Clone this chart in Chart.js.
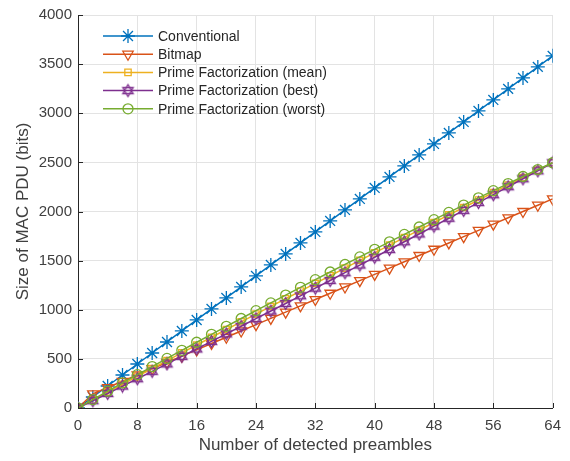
<!DOCTYPE html>
<html>
<head>
<meta charset="utf-8">
<script src="https://cdn.jsdelivr.net/npm/chart.js@4"></script>
<style>
  html, body { margin: 0; padding: 0; background: #fff; }
  #wrap { width: 570px; height: 461px; }
</style>
</head>
<body>
<div id="wrap"><canvas id="macChart" width="570" height="461"></canvas></div>
<script>
// Number of detected preambles (every 2nd point has a marker)
const preambles = [0, 2, 4, 6, 8, 10, 12, 14, 16, 18, 20, 22, 24, 26, 28, 30, 32,
    34, 36, 38, 40, 42, 44, 46, 48, 50, 52, 54, 56, 58, 60, 62, 64];

// Size of MAC PDU (bits)
const conventional = [0, 112, 224, 336, 448, 560, 672, 784, 896, 1008, 1120, 1232, 1344, 1456, 1568, 1680, 1792,
    1904, 2016, 2128, 2240, 2352, 2464, 2576, 2688, 2800, 2912, 3024, 3136, 3248, 3360, 3472, 3584];
const bitmap = [0, 144, 208, 272, 336, 400, 464, 528, 592, 656, 720, 784, 848, 912, 976, 1040, 1104,
    1168, 1232, 1296, 1360, 1424, 1488, 1552, 1616, 1680, 1744, 1808, 1872, 1936, 2000, 2064, 2128];
const primeMean = [0, 82, 162, 242, 322, 402, 482, 561, 641, 720, 799, 877, 956, 1034, 1112, 1190, 1268,
    1346, 1424, 1502, 1579, 1657, 1734, 1811, 1888, 1965, 2041, 2117, 2193, 2269, 2345, 2421, 2496];
const primeBest = [0, 74, 148, 223, 298, 373, 449, 525, 601, 678, 755, 832, 909, 987, 1064, 1142, 1220,
    1298, 1377, 1455, 1534, 1613, 1692, 1771, 1851, 1931, 2011, 2091, 2171, 2252, 2333, 2414, 2496];
const primeWorst = [0, 86, 171, 255, 339, 422, 505, 587, 669, 750, 831, 911, 991, 1070, 1149, 1228, 1306,
    1384, 1461, 1538, 1615, 1691, 1767, 1842, 1917, 1991, 2065, 2139, 2212, 2284, 2356, 2427, 2496];

const xTicks = [0, 8, 16, 24, 32, 40, 48, 56, 64];
const yTicks = [0, 500, 1000, 1500, 2000, 2500, 3000, 3500, 4000];

const textColor = '#404040';
const fontFamily = '"Liberation Sans", Arial, Helvetica, sans-serif';

// hexagram marker (no built-in one in Chart.js)
function makeHexagram(color) {
    const c = document.createElement('canvas');
    c.width = 15; c.height = 15;
    const g = c.getContext('2d');
    g.strokeStyle = color;
    g.lineWidth = 1.3;
    const cx = 7.5, cy = 7.5, r = 6;
    [[-90, 30, 150], [90, 210, 330]].forEach(angles => {
        g.beginPath();
        angles.forEach((a, i) => {
            const rad = a * Math.PI / 180;
            const px = cx + r * Math.cos(rad), py = cy + r * Math.sin(rad);
            if (i === 0) g.moveTo(px, py); else g.lineTo(px, py);
        });
        g.closePath();
        g.stroke();
    });
    return c;
}

function toPoints(values) {
    return values.map((v, i) => ({ x: preambles[i], y: v }));
}

const series = [
    { label: 'Conventional', values: conventional, color: '#0072BD', style: 'star', radius: 7, rotation: 0, order: 5 },
    { label: 'Bitmap', values: bitmap, color: '#D95319', style: 'triangle', radius: 6, rotation: 180, order: 4 },
    { label: 'Prime Factorization (mean)', values: primeMean, color: '#EDB120', style: 'rect', radius: 4.5, rotation: 0, order: 3 },
    { label: 'Prime Factorization (best)', values: primeBest, color: '#7E2F8E', style: makeHexagram('#7E2F8E'), radius: 7, rotation: 0, order: 2 },
    { label: 'Prime Factorization (worst)', values: primeWorst, color: '#77AC30', style: 'circle', radius: 5, rotation: 0, order: 1 }
];

const datasets = series.map(s => ({
    label: s.label,
    data: toPoints(s.values),
    borderColor: s.color,
    borderWidth: 1.5,
    pointStyle: s.style,
    pointRadius: s.radius,
    pointRotation: s.rotation,
    pointBorderColor: s.color,
    pointBorderWidth: 1.3,
    pointBackgroundColor: 'rgba(0,0,0,0)',
    tension: 0,
    order: s.order
}));

// inward tick marks like the original axes
const inwardTicks = {
    id: 'inwardTicks',
    afterDatasetsDraw(chart) {
        const { ctx, chartArea, scales } = chart;
        ctx.save();
        ctx.strokeStyle = '#262626';
        ctx.lineWidth = 1;
        xTicks.forEach(t => {
            const px = Math.round(scales.x.getPixelForValue(t)) + 0.5;
            ctx.beginPath();
            ctx.moveTo(px, chartArea.bottom);
            ctx.lineTo(px, chartArea.bottom - 5);
            ctx.stroke();
        });
        yTicks.forEach(t => {
            const py = Math.round(scales.y.getPixelForValue(t)) + 0.5;
            ctx.beginPath();
            ctx.moveTo(chartArea.left, py);
            ctx.lineTo(chartArea.left + 5, py);
            ctx.stroke();
        });
        ctx.restore();
    }
};

// legend drawn inside the plot area, top-left, no box
const insideLegend = {
    id: 'insideLegend',
    afterDraw(chart) {
        const { ctx } = chart;
        const x0 = 103, x1 = 153, textX = 158, yStart = 36, rowH = 18.2;
        ctx.save();
        ctx.font = '14px ' + fontFamily;
        ctx.textBaseline = 'middle';
        series.forEach((s, i) => {
            const y = yStart + i * rowH;
            ctx.strokeStyle = s.color;
            ctx.lineWidth = 1.5;
            ctx.beginPath();
            ctx.moveTo(x0, y);
            ctx.lineTo(x1, y);
            ctx.stroke();
            ctx.lineWidth = 1.3;
            ctx.fillStyle = 'rgba(0,0,0,0)';
            Chart.helpers.drawPoint(ctx, {
                pointStyle: s.style,
                rotation: s.rotation,
                radius: s.radius,
                borderWidth: 1.3
            }, (x0 + x1) / 2, y);
            ctx.fillStyle = '#262626';
            ctx.fillText(s.label, textX, y + 1);
        });
        ctx.restore();
    }
};

const ctx = document.getElementById('macChart').getContext('2d');
const macChart = new Chart(ctx, {
    type: 'line',
    data: { datasets: datasets },
    options: {
        responsive: false,
        maintainAspectRatio: false,
        animation: false,
        layout: { padding: { top: 8, right: 14, left: 0, bottom: 0 } },
        scales: {
            x: {
                type: 'linear',
                min: 0,
                max: 64,
                afterBuildTicks: scale => { scale.ticks = xTicks.map(v => ({ value: v })); },
                afterFit: scale => { scale.height = 53; },
                grid: { color: '#e3e3e3', lineWidth: 1, drawTicks: false },
                border: { color: '#262626', width: 1 },
                ticks: {
                    color: textColor, font: { size: 15, family: fontFamily }, padding: 9, maxRotation: 0,
                    callback: v => String(v)
                },
                title: {
                    display: true,
                    text: 'Number of detected preambles',
                    color: textColor,
                    font: { size: 17, family: fontFamily },
                    padding: { top: 0, bottom: 5 }
                }
            },
            y: {
                type: 'linear',
                min: 0,
                max: 4000,
                afterBuildTicks: scale => { scale.ticks = yTicks.map(v => ({ value: v })); },
                afterFit: scale => { scale.width = 78; },
                grid: { color: '#e3e3e3', lineWidth: 1, drawTicks: false },
                border: { color: '#262626', width: 1 },
                ticks: {
                    color: textColor, font: { size: 15, family: fontFamily }, padding: 6,
                    callback: v => String(v)
                },
                title: {
                    display: true,
                    text: 'Size of MAC PDU (bits)',
                    color: textColor,
                    font: { size: 17, family: fontFamily },
                    padding: { top: 13, bottom: 0 }
                }
            }
        },
        plugins: {
            legend: { display: false },
            tooltip: { enabled: false }
        }
    },
    plugins: [inwardTicks, insideLegend]
});
</script>
</body>
</html>
